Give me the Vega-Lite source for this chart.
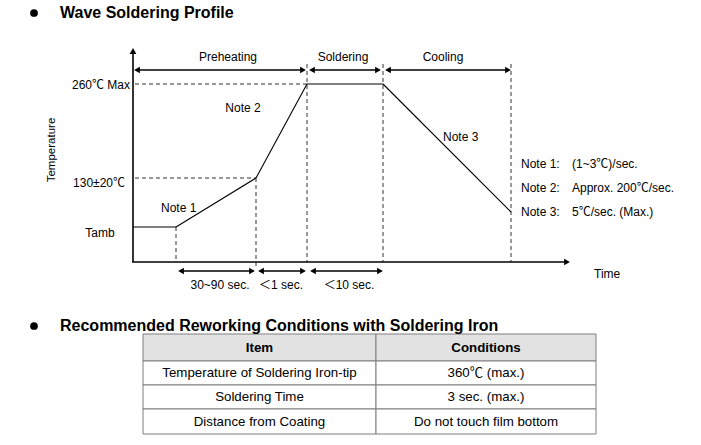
{
  "$schema": "https://vega.github.io/schema/vega-lite/v6.json",
  "width": 701,
  "height": 445,
  "padding": 0,
  "autosize": {"type": "fit", "contains": "padding"},
  "config": {"view": {"stroke": null}, "text": {"font": "Liberation Sans, 'Noto Sans CJK SC', sans-serif", "fontSize": 12, "color": "#000"}},
  "datasets": {
    "solid": [
      {"x": 133, "y": 50, "x2": 133, "y2": 262, "w": 1.6},
      {"x": 132, "y": 262, "x2": 566, "y2": 262, "w": 1.6},
      {"x": 133, "y": 227, "x2": 176, "y2": 227, "w": 1.1},
      {"x": 176, "y": 227, "x2": 256, "y2": 178, "w": 1.1},
      {"x": 256, "y": 178, "x2": 307, "y2": 84, "w": 1.1},
      {"x": 307, "y": 84, "x2": 383, "y2": 84, "w": 1.1},
      {"x": 383, "y": 84, "x2": 511, "y2": 212, "w": 1.1},
      {"x": 137, "y": 70, "x2": 303, "y2": 70, "w": 1.6},
      {"x": 312, "y": 70, "x2": 378, "y2": 70, "w": 1.6},
      {"x": 388, "y": 70, "x2": 508, "y2": 70, "w": 1.6},
      {"x": 181, "y": 271, "x2": 252, "y2": 271, "w": 1.6},
      {"x": 261, "y": 271, "x2": 303, "y2": 271, "w": 1.6},
      {"x": 313, "y": 271, "x2": 380, "y2": 271, "w": 1.6}
    ],
    "dashed": [
      {"x": 135, "y": 84, "x2": 307, "y2": 84},
      {"x": 135, "y": 178, "x2": 256, "y2": 178},
      {"x": 176, "y": 227, "x2": 176, "y2": 262},
      {"x": 256, "y": 178, "x2": 256, "y2": 268},
      {"x": 307, "y": 64, "x2": 307, "y2": 262},
      {"x": 383, "y": 64, "x2": 383, "y2": 262},
      {"x": 511, "y": 64, "x2": 511, "y2": 262}
    ],
    "heads": [
      {"x": 133, "y": 51, "shape": "triangle-up"},
      {"x": 567, "y": 262, "shape": "triangle-right"},
      {"x": 137, "y": 70, "shape": "triangle-left"},
      {"x": 303, "y": 70, "shape": "triangle-right"},
      {"x": 312, "y": 70, "shape": "triangle-left"},
      {"x": 378, "y": 70, "shape": "triangle-right"},
      {"x": 388, "y": 70, "shape": "triangle-left"},
      {"x": 508, "y": 70, "shape": "triangle-right"},
      {"x": 181, "y": 271, "shape": "triangle-left"},
      {"x": 252, "y": 271, "shape": "triangle-right"},
      {"x": 261, "y": 271, "shape": "triangle-left"},
      {"x": 303, "y": 271, "shape": "triangle-right"},
      {"x": 313, "y": 271, "shape": "triangle-left"},
      {"x": 380, "y": 271, "shape": "triangle-right"}
    ],
    "bullets": [
      {"x": 34, "y": 13},
      {"x": 34, "y": 326}
    ],
    "cells": [
      {"x": 143, "y": 334, "x2": 376, "y2": 361, "fill": "#e2e2e2"},
      {"x": 376, "y": 334, "x2": 596, "y2": 361, "fill": "#e2e2e2"},
      {"x": 143, "y": 361, "x2": 376, "y2": 385, "fill": "#ffffff"},
      {"x": 376, "y": 361, "x2": 596, "y2": 385, "fill": "#ffffff"},
      {"x": 143, "y": 385, "x2": 376, "y2": 409, "fill": "#ffffff"},
      {"x": 376, "y": 385, "x2": 596, "y2": 409, "fill": "#ffffff"},
      {"x": 143, "y": 409, "x2": 376, "y2": 434, "fill": "#ffffff"},
      {"x": 376, "y": 409, "x2": 596, "y2": 434, "fill": "#ffffff"}
    ],
    "titles": [
      {"x": 60, "y": 13, "t": "Wave Soldering Profile"},
      {"x": 60, "y": 326, "t": "Recommended Reworking Conditions with Soldering Iron"}
    ],
    "centerText": [
      {"x": 228, "y": 57, "t": "Preheating"},
      {"x": 343, "y": 57, "t": "Soldering"},
      {"x": 443, "y": 57, "t": "Cooling"},
      {"x": 100, "y": 233, "t": "Tamb"},
      {"x": 243, "y": 108, "t": "Note 2"},
      {"x": 220, "y": 285, "t": "30~90 sec."},
      {"x": 281, "y": 285, "t": "＜1 sec."},
      {"x": 349, "y": 285, "t": "＜10 sec."}
    ],
    "tableText": [
      {"x": 259.5, "y": 373, "t": "Temperature of Soldering Iron-tip"},
      {"x": 486, "y": 373, "t": "360℃ (max.)"},
      {"x": 259.5, "y": 397, "t": "Soldering Time"},
      {"x": 486, "y": 397, "t": "3 sec. (max.)"},
      {"x": 259.5, "y": 422, "t": "Distance from Coating"},
      {"x": 486, "y": 422, "t": "Do not touch film bottom"}
    ],
    "headText": [
      {"x": 259.5, "y": 348, "t": "Item"},
      {"x": 486, "y": 348, "t": "Conditions"}
    ],
    "rightText": [
      {"x": 130, "y": 85, "t": "260℃ Max"},
      {"x": 125, "y": 183, "t": "130±20℃"}
    ],
    "leftText": [
      {"x": 161, "y": 208, "t": "Note 1"},
      {"x": 443, "y": 137, "t": "Note 3"},
      {"x": 521, "y": 164, "t": "Note 1:"},
      {"x": 521, "y": 188, "t": "Note 2:"},
      {"x": 521, "y": 212, "t": "Note 3:"},
      {"x": 572, "y": 164, "t": "(1~3℃)/sec."},
      {"x": 572, "y": 188, "t": "Approx. 200℃/sec."},
      {"x": 572, "y": 212, "t": "5℃/sec. (Max.)"},
      {"x": 594, "y": 274, "t": "Time"}
    ],
    "rotText": [
      {"x": 52, "y": 150, "t": "Temperature"}
    ]
  },
  "layer": [
    {
      "data": {"name": "cells"},
      "mark": {"type": "rect", "stroke": "#7f7f7f", "strokeWidth": 1},
      "encoding": {
        "x": {"field": "x", "type": "quantitative", "scale": {"domain": [0, 701], "nice": false, "zero": false}, "axis": null},
        "y": {"field": "y", "type": "quantitative", "scale": {"domain": [0, 445], "nice": false, "zero": false, "reverse": true}, "axis": null},
        "x2": {"field": "x2"},
        "y2": {"field": "y2"},
        "fill": {"field": "fill", "type": "nominal", "scale": null}
      }
    },
    {
      "data": {"name": "dashed"},
      "mark": {"type": "rule", "color": "#333", "strokeWidth": 1, "strokeDash": [4, 3]},
      "encoding": {
        "x": {"field": "x", "type": "quantitative"},
        "y": {"field": "y", "type": "quantitative"},
        "x2": {"field": "x2"},
        "y2": {"field": "y2"}
      }
    },
    {
      "data": {"name": "solid"},
      "mark": {"type": "rule", "color": "#000"},
      "encoding": {
        "x": {"field": "x", "type": "quantitative"},
        "y": {"field": "y", "type": "quantitative"},
        "x2": {"field": "x2"},
        "y2": {"field": "y2"},
        "strokeWidth": {"field": "w", "type": "quantitative", "scale": null}
      }
    },
    {
      "data": {"name": "heads"},
      "mark": {"type": "point", "filled": true, "color": "#000", "opacity": 1, "size": 45},
      "encoding": {
        "x": {"field": "x", "type": "quantitative"},
        "y": {"field": "y", "type": "quantitative"},
        "shape": {"field": "shape", "type": "nominal", "scale": null}
      }
    },
    {
      "data": {"name": "bullets"},
      "mark": {"type": "circle", "color": "#000", "opacity": 1, "size": 60},
      "encoding": {
        "x": {"field": "x", "type": "quantitative"},
        "y": {"field": "y", "type": "quantitative"}
      }
    },
    {
      "data": {"name": "titles"},
      "mark": {"type": "text", "align": "left", "baseline": "middle", "fontSize": 16, "fontWeight": "bold"},
      "encoding": {
        "x": {"field": "x", "type": "quantitative"},
        "y": {"field": "y", "type": "quantitative"},
        "text": {"field": "t"}
      }
    },
    {
      "data": {"name": "centerText"},
      "mark": {"type": "text", "align": "center", "baseline": "middle"},
      "encoding": {
        "x": {"field": "x", "type": "quantitative"},
        "y": {"field": "y", "type": "quantitative"},
        "text": {"field": "t"}
      }
    },
    {
      "data": {"name": "tableText"},
      "mark": {"type": "text", "align": "center", "baseline": "middle", "fontSize": 13.3},
      "encoding": {
        "x": {"field": "x", "type": "quantitative"},
        "y": {"field": "y", "type": "quantitative"},
        "text": {"field": "t"}
      }
    },
    {
      "data": {"name": "headText"},
      "mark": {"type": "text", "align": "center", "baseline": "middle", "fontWeight": "bold", "fontSize": 13.3},
      "encoding": {
        "x": {"field": "x", "type": "quantitative"},
        "y": {"field": "y", "type": "quantitative"},
        "text": {"field": "t"}
      }
    },
    {
      "data": {"name": "rightText"},
      "mark": {"type": "text", "align": "right", "baseline": "middle"},
      "encoding": {
        "x": {"field": "x", "type": "quantitative"},
        "y": {"field": "y", "type": "quantitative"},
        "text": {"field": "t"}
      }
    },
    {
      "data": {"name": "leftText"},
      "mark": {"type": "text", "align": "left", "baseline": "middle"},
      "encoding": {
        "x": {"field": "x", "type": "quantitative"},
        "y": {"field": "y", "type": "quantitative"},
        "text": {"field": "t"}
      }
    },
    {
      "data": {"name": "rotText"},
      "mark": {"type": "text", "align": "center", "baseline": "middle", "angle": 270, "fontSize": 11.5},
      "encoding": {
        "x": {"field": "x", "type": "quantitative"},
        "y": {"field": "y", "type": "quantitative"},
        "text": {"field": "t"}
      }
    }
  ]
}
